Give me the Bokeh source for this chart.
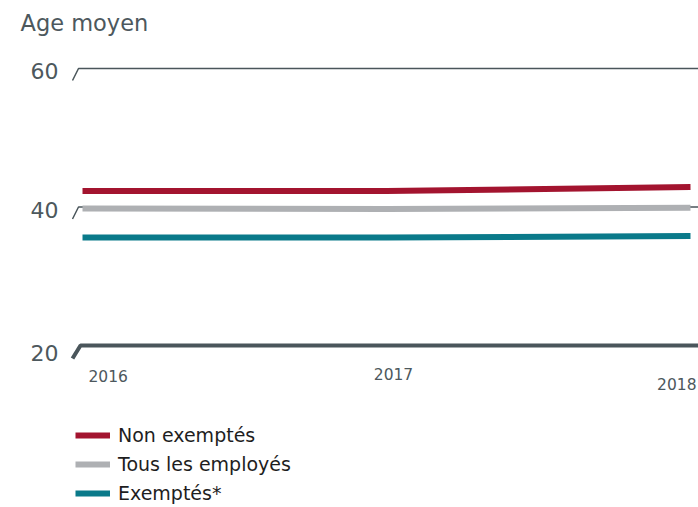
from bokeh.plotting import figure
from bokeh.models import Range1d, Legend, LegendItem, Label
from bokeh.core.properties import value
from bokeh.embed import file_html
from bokeh.resources import INLINE

# ---- data ----
years = [2016, 2017, 2018]
non_exemptes = [42.3, 42.3, 42.9]
tous_employes = [39.8, 39.7, 39.9]
exemptes = [35.6, 35.6, 35.8]
series_names = ["Non exemptés", "Tous les employés", "Exemptés*"]
y_ticks = [20, 40, 60]
y_tick_labels = ["20", "40", "60"]
year_labels = ["2016", "2017", "2018"]
title_text = "Age moyen"

# ---- styles ----
FONT = "DejaVu Sans"
TXT = "#4d585d"
DARK = "#4a565b"
colors = ["#a3142f", "#aeb0b3", "#0a7a8a"]

W, H = 698, 507
PX_X = 304.0                             # px per year
PX_Y = 277.0 / 40                        # px per unit of age
LEFT_PAD = 82                            # px from left edge to first year
TOP_PAD = 68                             # px from top edge to top tick
x_start = years[0] - LEFT_PAD / PX_X
x_end = x_start + W / PX_X
y_end = y_ticks[-1] + TOP_PAD / PX_Y
y_start = y_end - H / PX_Y

p = figure(width=W, height=H, output_backend="svg", toolbar_location=None,
           x_range=Range1d(x_start, x_end), y_range=Range1d(y_start, y_end),
           x_axis_location=None, y_axis_location=None,
           min_border_left=0, min_border_right=0, min_border_top=0, min_border_bottom=0)
p.outline_line_color = None
p.xgrid.visible = False
p.ygrid.visible = False
p.background_fill_color = None
p.border_fill_color = None

# grid lines with slanted left tick
xs, ys, widths = [], [], []
for t in y_ticks:
    thick = (t == y_ticks[0])
    dy = (13 if thick else 12) / PX_Y
    xs.append([years[0] - 10 / PX_X, years[0] - (2 if thick else 4) / PX_X, x_end])
    ys.append([t - dy, t, t])
    widths.append(4 if thick else 1.5)
p.multi_line(xs=xs, ys=ys, line_color=DARK, line_width=widths)

# y tick labels
y_label_offsets = [7, 3, 2]
for t, lab, yo in zip(y_ticks, y_tick_labels, y_label_offsets):
    p.text(x=[years[0]], y=[t], text=[lab], text_align="right", text_baseline="middle",
           x_offset=-24, y_offset=yo, text_font=value(FONT), text_font_size="22px",
           text_color=TXT)

# series
renderers = []
for vals, c in zip([non_exemptes, tous_employes, exemptes], colors):
    r = p.line(years, vals, line_color=c, line_width=6)
    renderers.append(r)

legend = Legend(items=[LegendItem(label=n, renderers=[r]) for n, r in zip(series_names, renderers)],
                location=(75, 3), orientation="vertical", padding=0, margin=0,
                spacing=7, glyph_width=35, glyph_height=22, label_height=22,
                label_standoff=8, label_text_font=FONT, label_text_font_size="19px",
                label_text_color="#1e1e1e", border_line_color=None,
                background_fill_alpha=0)
p.add_layout(legend, "center")

# x labels
aligns = ["left", "center", "right"]
xoffs = [6, 7, 6]
yoffs = [30, 28, 38]
for yr, lab, al, xo, yo in zip(years, year_labels, aligns, xoffs, yoffs):
    p.text(x=[yr], y=[y_ticks[0]], text=[lab], text_align=al, text_baseline="middle",
           x_offset=xo, y_offset=yo, text_font=value(FONT), text_font_size="15.5px",
           text_color=TXT)

# title
p.add_layout(Label(x=20, y=H - 22, x_units="screen", y_units="screen", text=title_text,
                   text_font=FONT, text_font_size="22.5px", text_color=TXT,
                   text_baseline="middle"))

open("out.html", "w").write(file_html(p, INLINE))
